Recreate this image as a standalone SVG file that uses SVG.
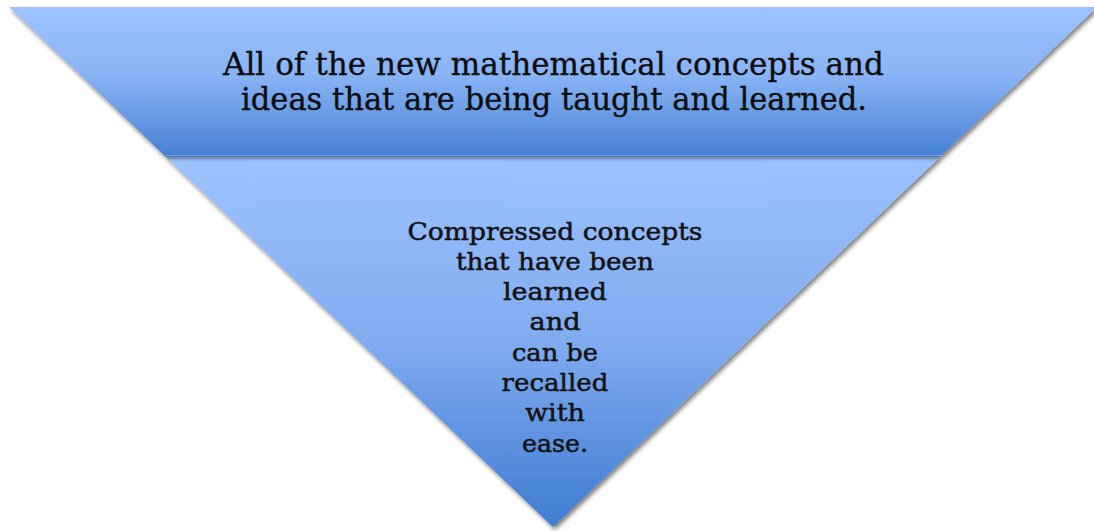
<svg xmlns="http://www.w3.org/2000/svg" width="1094" height="531" viewBox="0 0 1094 531">
  <defs>
    <linearGradient id="gTop" x1="0" y1="7" x2="0" y2="155" gradientUnits="userSpaceOnUse">
      <stop offset="0" stop-color="#9dc2ff"/>
      <stop offset="0.45" stop-color="#8ab4f6"/>
      <stop offset="1" stop-color="#4882d4"/>
    </linearGradient>
    <linearGradient id="gBot" x1="0" y1="156" x2="0" y2="527" gradientUnits="userSpaceOnUse">
      <stop offset="0" stop-color="#9dc2ff"/>
      <stop offset="0.5" stop-color="#80abf0"/>
      <stop offset="1" stop-color="#3f7cd0"/>
    </linearGradient>
    <filter id="sh" x="-5%" y="-5%" width="110%" height="115%">
      <feDropShadow dx="2" dy="3" stdDeviation="2" flood-color="#000" flood-opacity="0.5"/>
    </filter>
  </defs>
  <style>
    .t1 { font-family: "DejaVu Serif", "Liberation Serif", serif; font-size: 31px; fill: #0d0d0d; stroke: #0d0d0d; stroke-width: 0.35px; text-anchor: middle; }
    .t2 { font-family: "DejaVu Serif", "Liberation Serif", serif; font-size: 25px; fill: #121212; stroke: #121212; stroke-width: 0.5px; text-anchor: middle; }
  </style>
  <rect width="1094" height="531" fill="#ffffff"/>
  <g id="bottom-level">
    <polygon points="164,155 942,155 553,527" fill="url(#gBot)" filter="url(#sh)"/>
    <text class="t2" x="555" y="240" textLength="295" lengthAdjust="spacingAndGlyphs">Compressed concepts</text>
    <text class="t2" x="555" y="270" textLength="198" lengthAdjust="spacingAndGlyphs">that have been</text>
    <text class="t2" x="555" y="300" textLength="104" lengthAdjust="spacingAndGlyphs">learned</text>
    <text class="t2" x="555" y="330" textLength="51" lengthAdjust="spacingAndGlyphs">and</text>
    <text class="t2" x="555" y="361" textLength="86" lengthAdjust="spacingAndGlyphs">can be</text>
    <text class="t2" x="555" y="391" textLength="107" lengthAdjust="spacingAndGlyphs">recalled</text>
    <text class="t2" x="555" y="421" textLength="60" lengthAdjust="spacingAndGlyphs">with</text>
    <text class="t2" x="555" y="452" textLength="66" lengthAdjust="spacingAndGlyphs">ease.</text>
  </g>
  <g id="top-level">
    <polygon points="9,7 1097,7 942,155 164,155" fill="url(#gTop)" filter="url(#sh)"/>
    <line x1="164" y1="155.5" x2="942" y2="155.5" stroke="#6f9fe6" stroke-width="1"/>
    <text class="t1" x="553.5" y="75" textLength="661" lengthAdjust="spacingAndGlyphs">All of the new mathematical concepts and</text>
    <text class="t1" x="554" y="110" textLength="626" lengthAdjust="spacingAndGlyphs">ideas that are being taught and learned.</text>
  </g>
</svg>
